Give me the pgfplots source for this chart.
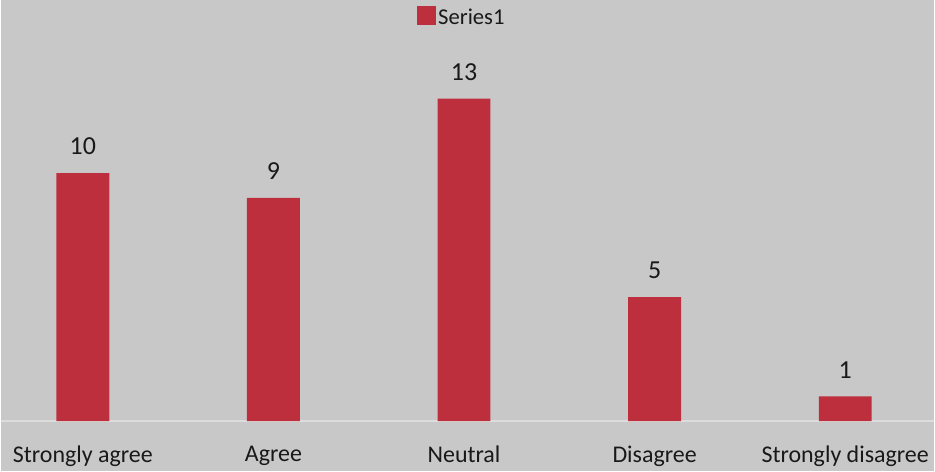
\documentclass[border=0pt]{standalone}
\usepackage{pgfplots}
\pgfplotsset{compat=1.18}
\usepackage{fontspec}
\setmainfont{Carlito}
\definecolor{bg}{HTML}{C8C8C8}
\definecolor{barred}{HTML}{BE2F3E}
\definecolor{axgray}{HTML}{DCDCDC}
\begin{document}
\begin{tikzpicture}
\fill[bg] (0pt,0pt) rectangle (701.25pt,354pt);
\begin{axis}[
  at={(0pt,37.5pt)}, anchor=south west,
  scale only axis,
  width=701.25pt, height=316.5pt,
  xmin=-0.4293, xmax=4.466,
  ymin=0, ymax=16.98,
  axis x line*=bottom,
  axis y line=none,
  x axis line style={draw=axgray, line width=1.5pt, -},
  xtick=data,
  xticklabels={Strongly agree,Agree,Neutral,Disagree,Strongly disagree},
  xtick style={draw=none},
  xticklabel style={font=\fontsize{18}{20}\selectfont, text=black!90, yshift=-11pt},
  ybar, bar width=39.75pt,
  /pgf/number format/assume math mode=true,
  nodes near coords,
  nodes near coords style={font=\fontsize{19.5}{22}\selectfont, text=black!90, yshift=10pt},
  legend style={at={(0.494,1.0)}, anchor=north, draw=none, fill=none,
    font=\fontsize{17}{19}\selectfont, text=black!90, yshift=-2pt},
  legend image code/.code={\fill[barred] (0cm,-0.17cm) rectangle (0.5cm,0.33cm);},
  clip=false,
]
\addplot[fill=barred, draw=none] coordinates {(0,10) (1,9) (2,13) (3,5) (4,1)};
\addlegendentry{Series1}
\end{axis}
\end{tikzpicture}
\end{document}
